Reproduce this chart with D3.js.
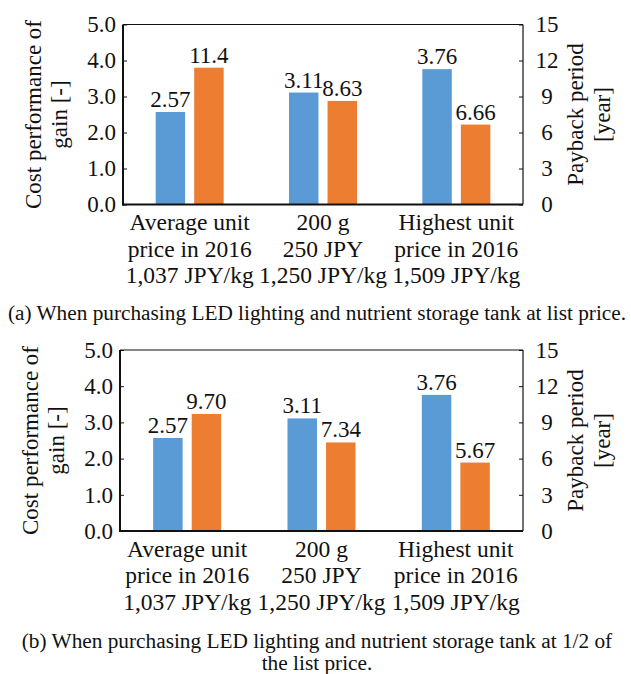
<!DOCTYPE html>
<html>
<head>
<meta charset="utf-8">
<script src="https://cdn.jsdelivr.net/npm/d3@7"></script>
<style>
body { margin: 0; background: #fff; }
text { font-family: "Liberation Serif", "Times New Roman", serif; fill: #111; }
</style>
</head>
<body>
<svg width="631" height="674"></svg>
<script>
// chart values
var catLines = [
  ["Average unit", "price in 2016", "1,037 JPY/kg"],
  ["200 g", "250 JPY", "1,250 JPY/kg"],
  ["Highest unit", "price in 2016", "1,509 JPY/kg"]
];
var costPerf = [2.57, 3.11, 3.76];
var paybackA = [11.4, 8.63, 6.66];
var paybackB = [9.70, 7.34, 5.67];
var leftTicks = [0, 1, 2, 3, 4, 5];
var rightTicks = [0, 3, 6, 9, 12, 15];
var captionA = ["(a) When purchasing LED lighting and nutrient storage tank at list price."];
var captionB = ["(b) When purchasing LED lighting and nutrient storage tank at 1/2 of", "the list price."];

var blue = "#5b9bd5", orange = "#ed7d31";
var svg = d3.select("svg");
var fmt = d3.format(".3r");

function panel(left, right, top, bottom, payback, caption, capY) {
  var g = svg.append("g");
  var x = d3.scaleBand().domain([0, 1, 2]).range([left, right]);
  var yL = d3.scaleLinear().domain([0, 5]).range([bottom, top]);
  var yR = d3.scaleLinear().domain([0, 15]).range([bottom, top]);
  var off = d3.scaleBand().domain([0, 1]).range([-34, 34]).paddingInner(8 / 68 * 2);

  // bars
  var rows = costPerf.map(function(v, i) { return {i: i, c: v, p: payback[i]}; });
  g.selectAll(".b").data(rows).enter().append("rect")
    .attr("x", function(d) { return x(d.i) + x.bandwidth() / 2 + off(0); })
    .attr("width", off.bandwidth())
    .attr("y", function(d) { return yL(d.c); })
    .attr("height", function(d) { return bottom - yL(d.c); })
    .attr("fill", blue);
  g.selectAll(".o").data(rows).enter().append("rect")
    .attr("x", function(d) { return x(d.i) + x.bandwidth() / 2 + off(1); })
    .attr("width", off.bandwidth())
    .attr("y", function(d) { return yR(d.p); })
    .attr("height", function(d) { return bottom - yR(d.p); })
    .attr("fill", orange);

  // value labels
  g.selectAll(".lb").data(rows).enter().append("text")
    .attr("x", function(d) { return x(d.i) + x.bandwidth() / 2 + off(0) + off.bandwidth() / 2; })
    .attr("y", function(d) { return yL(d.c) - 5; })
    .attr("text-anchor", "middle").style("font-size", "23px")
    .text(function(d) { return fmt(d.c); });
  g.selectAll(".lo").data(rows).enter().append("text")
    .attr("x", function(d) { return x(d.i) + x.bandwidth() / 2 + off(1) + off.bandwidth() / 2; })
    .attr("y", function(d) { return yR(d.p) - 5; })
    .attr("text-anchor", "middle").style("font-size", "23px")
    .text(function(d) { return fmt(d.p); });

  // axes
  var ax = g.append("g").attr("transform", "translate(" + left + ",0)")
    .call(d3.axisLeft(yL).tickValues(leftTicks).tickSize(-4).tickPadding(7).tickFormat(d3.format(".1f")));
  ax.select(".domain").remove();
  ax.selectAll("text").style("font-size", "23px").style("font-family", "Liberation Serif");
  ax.selectAll("line").attr("stroke", "#111");

  var ar = g.append("g").attr("transform", "translate(" + right + ",0)")
    .call(d3.axisRight(yR).tickValues(rightTicks).tickSize(-4).tickPadding(24));
  ar.select(".domain").remove();
  ar.selectAll("text").attr("text-anchor", "middle").style("font-size", "23px").style("font-family", "Liberation Serif");
  ar.selectAll("line").attr("stroke", "#111");

  // frame
  g.append("line").attr("x1", left).attr("x2", right).attr("y1", top).attr("y2", top).attr("stroke", "#111").attr("stroke-width", 1);
  g.append("line").attr("x1", right).attr("x2", right).attr("y1", top).attr("y2", bottom).attr("stroke", "#111").attr("stroke-width", 1.2);
  g.append("line").attr("x1", left).attr("x2", left).attr("y1", top).attr("y2", bottom + 1).attr("stroke", "#111").attr("stroke-width", 2);
  g.append("line").attr("x1", left - 1).attr("x2", right).attr("y1", bottom).attr("y2", bottom).attr("stroke", "#111").attr("stroke-width", 2);

  // category labels
  var cl = g.selectAll(".cat").data(catLines).enter().append("text")
    .attr("text-anchor", "middle").style("font-size", "23.5px");
  cl.selectAll("tspan").data(function(d, i) { return d.map(function(s) { return {s: s, i: i}; }); })
    .enter().append("tspan")
    .attr("x", function(d) { return x(d.i) + x.bandwidth() / 2; })
    .attr("y", function(d, j) { return bottom + 25.5 + j * 26.7; })
    .text(function(d) { return d.s; });

  // axis titles
  var mid = (top + bottom) / 2;
  g.append("text").attr("transform", "translate(" + (left - 82) + "," + mid + ") rotate(-90)")
    .attr("text-anchor", "middle").style("font-size", "23px").text("Cost performance of");
  g.append("text").attr("transform", "translate(" + (left - 56) + "," + mid + ") rotate(-90)")
    .attr("text-anchor", "middle").style("font-size", "23px").text("gain [-]");
  g.append("text").attr("transform", "translate(" + (right + 60) + "," + mid + ") rotate(-90)")
    .attr("text-anchor", "middle").style("font-size", "23px").text("Payback period");
  g.append("text").attr("transform", "translate(" + (right + 87) + "," + mid + ") rotate(-90)")
    .attr("text-anchor", "middle").style("font-size", "23px").text("[year]");

  // caption
  g.selectAll(".cap").data(caption).enter().append("text")
    .attr("x", 317).attr("y", function(d, i) { return capY + i * 22.5; })
    .attr("text-anchor", "middle").style("font-size", "21.3px")
    .text(function(d) { return d; });
}

panel(123, 523, 24.5, 204.5, paybackA, captionA, 320);
panel(120, 523, 350, 531, paybackB, captionB, 647.5);
</script>
</body>
</html>
